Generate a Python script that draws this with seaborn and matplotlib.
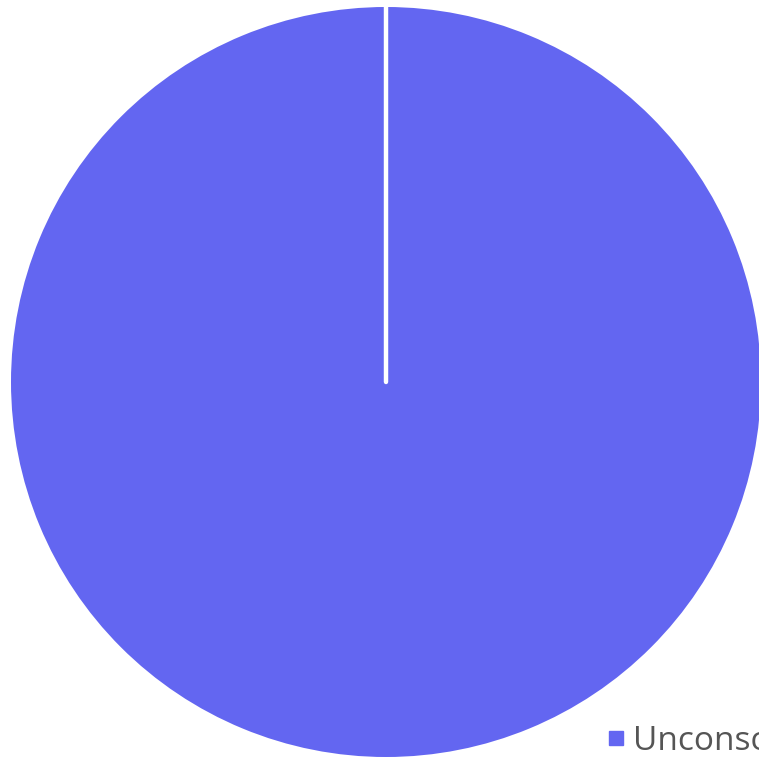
import matplotlib
matplotlib.use("Agg")
import matplotlib.pyplot as plt
import seaborn as sns
import numpy as np
from matplotlib.lines import Line2D

labels = ["Unconscious"]
values = [100]
colors = ["#6366F1"]

sns.set_theme(style="white")
plt.rcParams['font.family'] = ['Open Sans', 'DejaVu Sans']

W = H = 759
fig = plt.figure(figsize=(W / 100, H / 100), dpi=100)
ax = fig.add_axes([0, 0, 1, 1])

wedges, _ = ax.pie(values, colors=colors, startangle=90, counterclock=False,
                   radius=375, center=(386, H - 382), frame=True,
                   wedgeprops=dict(linewidth=0))
ax.set_xlim(0, W)
ax.set_ylim(0, H)
ax.set_aspect('equal')
ax.axis('off')

# slice border: the radial edge of each wedge drawn in white
for w in wedges:
    cx, cy = w.center
    a = np.deg2rad(w.theta1)
    ax.plot([cx, cx + w.r * np.cos(a)], [cy, cy + w.r * np.sin(a)],
            color='white', linewidth=3.2, solid_capstyle='round', zorder=5)

handles = [Line2D([0], [0], marker='s', linestyle='none', markersize=10,
                  markerfacecolor=colors[0], markeredgecolor=colors[0])]
fig.legend(handles, labels, loc='center left',
           bbox_to_anchor=(600 / W, (H - 741) / H), frameon=False,
           fontsize=24, labelcolor='#555555', handlelength=0.95,
           handletextpad=0.05, borderpad=0, borderaxespad=0)

fig.savefig('out.png', dpi=100)
